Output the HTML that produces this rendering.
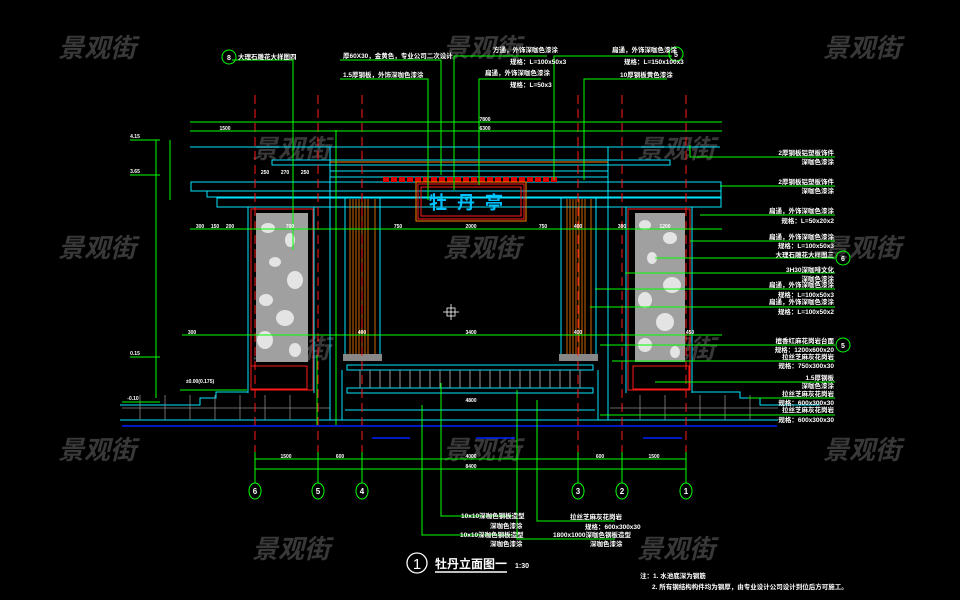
<!DOCTYPE html>
<html><head><meta charset="utf-8"><style>
html,body{margin:0;padding:0;background:#000;width:960px;height:600px;overflow:hidden}
svg{display:block}
text{font-family:"Liberation Sans","Noto Sans CJK SC",sans-serif}
.wm{fill:#383838;font-size:26px;font-weight:bold;font-style:italic;font-family:"Liberation Sans","Noto Sans CJK SC",sans-serif}
.lb{fill:#fff;font-size:6.5px;font-weight:bold}
.dm{fill:#fff;font-size:5px;font-weight:bold}
</style></head><body>
<svg width="960" height="600" viewBox="0 0 960 600" xmlns="http://www.w3.org/2000/svg">
<rect width="960" height="600" fill="#000"/>
<g class="wm">
<text x="58" y="57">景观街</text><text x="443" y="57">景观街</text><text x="823" y="57">景观街</text>
<text x="252" y="158">景观街</text><text x="637" y="158">景观街</text>
<text x="58" y="257">景观街</text><text x="443" y="257">景观街</text><text x="823" y="257">景观街</text>
<text x="252" y="358">景观街</text><text x="637" y="358">景观街</text>
<text x="58" y="459">景观街</text><text x="443" y="459">景观街</text><text x="823" y="459">景观街</text>
<text x="252" y="558">景观街</text><text x="637" y="558">景观街</text>
</g>

<g>
<rect x="256" y="213" width="52" height="149" fill="#a0a0a0"/>
<rect x="635" y="213" width="50" height="149" fill="#a0a0a0"/>
<g fill="#e4e4e4">
<ellipse cx="268" cy="228" rx="7" ry="5"/><ellipse cx="290" cy="240" rx="5" ry="7"/><ellipse cx="275" cy="262" rx="6" ry="5"/><ellipse cx="295" cy="280" rx="8" ry="9"/><ellipse cx="266" cy="300" rx="7" ry="6"/><ellipse cx="285" cy="318" rx="9" ry="8"/><ellipse cx="265" cy="340" rx="8" ry="9"/><ellipse cx="295" cy="350" rx="6" ry="7"/>
<ellipse cx="645" cy="225" rx="6" ry="5"/><ellipse cx="670" cy="238" rx="7" ry="6"/><ellipse cx="652" cy="258" rx="5" ry="6"/><ellipse cx="672" cy="285" rx="9" ry="8"/><ellipse cx="645" cy="300" rx="7" ry="8"/><ellipse cx="665" cy="322" rx="9" ry="9"/><ellipse cx="645" cy="345" rx="7" ry="7"/><ellipse cx="675" cy="352" rx="5" ry="6"/>
</g>
</g>

<g fill="none" stroke="#00e5ff" stroke-width="1">
<line x1="190" y1="147" x2="720" y2="147"/>
<rect x="272" y="160" width="398" height="5"/>
<rect x="330" y="171" width="278" height="6"/>
<rect x="191" y="182" width="530" height="9"/>
<rect x="207" y="191" width="514" height="6"/>
<rect x="217" y="198" width="504" height="9"/>
<line x1="248" y1="207" x2="248" y2="393"/><line x1="314" y1="207" x2="314" y2="393"/>
<line x1="626" y1="207" x2="626" y2="393"/><line x1="692" y1="207" x2="692" y2="393"/>
<line x1="345" y1="197" x2="345" y2="355"/><line x1="380" y1="197" x2="380" y2="355"/>
<line x1="561" y1="197" x2="561" y2="355"/><line x1="596" y1="197" x2="596" y2="355"/>
<line x1="330" y1="147" x2="330" y2="420"/><line x1="608" y1="147" x2="608" y2="420"/>
<rect x="347" y="365" width="246" height="5"/>
<rect x="347" y="388" width="246" height="5"/>
<line x1="342" y1="370" x2="342" y2="420"/><line x1="598" y1="370" x2="598" y2="420"/>
<polyline points="120,405 200,405 200,398 216,398 216,392 248,392"/>
<polyline points="820,405 760,405 760,398 740,398 740,392 692,392"/>
<line x1="120" y1="420" x2="778" y2="420"/>
<line x1="345" y1="410" x2="595" y2="410"/>
</g>
<g stroke="#888" stroke-width="0.8">
<line x1="122" y1="408" x2="330" y2="408"/><line x1="610" y1="408" x2="778" y2="408"/>
<line x1="140" y1="395" x2="140" y2="420"/><line x1="165" y1="395" x2="165" y2="420"/><line x1="190" y1="395" x2="190" y2="420"/><line x1="215" y1="395" x2="215" y2="420"/><line x1="240" y1="395" x2="240" y2="420"/><line x1="265" y1="395" x2="265" y2="420"/><line x1="290" y1="395" x2="290" y2="420"/>
<line x1="640" y1="395" x2="640" y2="420"/><line x1="665" y1="395" x2="665" y2="420"/><line x1="700" y1="395" x2="700" y2="420"/><line x1="725" y1="395" x2="725" y2="420"/><line x1="750" y1="395" x2="750" y2="420"/>
</g>
<g stroke="#999" stroke-width="1">
<line x1="360" y1="370" x2="360" y2="388"/><line x1="370" y1="370" x2="370" y2="388"/><line x1="380" y1="370" x2="380" y2="388"/><line x1="390" y1="370" x2="390" y2="388"/><line x1="400" y1="370" x2="400" y2="388"/><line x1="410" y1="370" x2="410" y2="388"/><line x1="420" y1="370" x2="420" y2="388"/><line x1="430" y1="370" x2="430" y2="388"/><line x1="440" y1="370" x2="440" y2="388"/><line x1="450" y1="370" x2="450" y2="388"/><line x1="460" y1="370" x2="460" y2="388"/><line x1="470" y1="370" x2="470" y2="388"/><line x1="480" y1="370" x2="480" y2="388"/><line x1="490" y1="370" x2="490" y2="388"/><line x1="500" y1="370" x2="500" y2="388"/><line x1="510" y1="370" x2="510" y2="388"/><line x1="520" y1="370" x2="520" y2="388"/><line x1="530" y1="370" x2="530" y2="388"/><line x1="540" y1="370" x2="540" y2="388"/><line x1="550" y1="370" x2="550" y2="388"/><line x1="560" y1="370" x2="560" y2="388"/><line x1="570" y1="370" x2="570" y2="388"/><line x1="580" y1="370" x2="580" y2="388"/>
</g>
<g stroke="#ff8000" stroke-width="0.8">
<line x1="350" y1="199" x2="350" y2="354"/><line x1="353" y1="199" x2="353" y2="354"/><line x1="356" y1="199" x2="356" y2="354"/><line x1="359" y1="199" x2="359" y2="354"/><line x1="362" y1="199" x2="362" y2="354"/><line x1="365" y1="199" x2="365" y2="354"/><line x1="368" y1="199" x2="368" y2="354"/><line x1="375" y1="199" x2="375" y2="354"/>
<line x1="567" y1="199" x2="567" y2="354"/><line x1="570" y1="199" x2="570" y2="354"/><line x1="573" y1="199" x2="573" y2="354"/><line x1="576" y1="199" x2="576" y2="354"/><line x1="579" y1="199" x2="579" y2="354"/><line x1="582" y1="199" x2="582" y2="354"/><line x1="585" y1="199" x2="585" y2="354"/><line x1="591" y1="199" x2="591" y2="354"/>
</g>
<rect x="343" y="354" width="39" height="7" fill="#888"/>
<rect x="559" y="354" width="39" height="7" fill="#888"/>
<g fill="#e00000">
<rect x="383" y="177" width="6" height="5"/><rect x="391" y="177" width="6" height="5"/><rect x="399" y="177" width="6" height="5"/><rect x="407" y="177" width="6" height="5"/><rect x="415" y="177" width="6" height="5"/><rect x="423" y="177" width="6" height="5"/><rect x="431" y="177" width="6" height="5"/><rect x="439" y="177" width="6" height="5"/><rect x="447" y="177" width="6" height="5"/><rect x="455" y="177" width="6" height="5"/><rect x="463" y="177" width="6" height="5"/><rect x="471" y="177" width="6" height="5"/><rect x="479" y="177" width="6" height="5"/><rect x="487" y="177" width="6" height="5"/><rect x="495" y="177" width="6" height="5"/><rect x="503" y="177" width="6" height="5"/><rect x="511" y="177" width="6" height="5"/><rect x="519" y="177" width="6" height="5"/><rect x="527" y="177" width="6" height="5"/><rect x="535" y="177" width="6" height="5"/><rect x="543" y="177" width="6" height="5"/><rect x="551" y="177" width="6" height="5"/>
</g>
<line x1="330" y1="162" x2="608" y2="162" stroke="#ff8000"/>
<g fill="none" stroke="#ff1a1a" stroke-width="1">
<rect x="251" y="209" width="62" height="181"/><rect x="251" y="366" width="56" height="23"/>
<rect x="628" y="209" width="62" height="181"/><rect x="633" y="366" width="56" height="23"/>
<rect x="418" y="184" width="106" height="35"/><rect x="421" y="187" width="100" height="29"/>
</g>
<rect x="416" y="182" width="110" height="39" fill="none" stroke="#ff8000"/>
<text x="471" y="209" text-anchor="middle" fill="#00bfff" font-size="18" font-weight="bold" font-family="Liberation Serif,Noto Serif CJK SC,serif" letter-spacing="10">牡丹亭</text>
<g stroke="#ff1a1a" stroke-width="1" stroke-dasharray="9,5">
<line x1="255" y1="95" x2="255" y2="485"/><line x1="318" y1="95" x2="318" y2="485"/><line x1="362" y1="95" x2="362" y2="485"/>
<line x1="578" y1="95" x2="578" y2="485"/><line x1="622" y1="95" x2="622" y2="485"/><line x1="686" y1="95" x2="686" y2="485"/>
</g>
<line x1="122" y1="426" x2="777" y2="426" stroke="#0020ff" stroke-width="1.5"/>
<g stroke="#0020ff" stroke-width="1.5"><line x1="372" y1="438" x2="410" y2="438"/><line x1="476" y1="438" x2="515" y2="438"/><line x1="643" y1="438" x2="682" y2="438"/></g>
<g stroke="#00ff00" stroke-width="1" fill="none">
<line x1="190" y1="122" x2="722" y2="122"/><line x1="190" y1="131" x2="722" y2="131"/>
<line x1="190" y1="229" x2="722" y2="229"/><line x1="182" y1="335" x2="722" y2="335"/>
<line x1="156" y1="140" x2="156" y2="398"/><line x1="170" y1="140" x2="170" y2="200"/>
<line x1="130" y1="140" x2="160" y2="140"/><line x1="130" y1="175" x2="160" y2="175"/><line x1="130" y1="357" x2="160" y2="357"/><line x1="122" y1="402" x2="160" y2="402"/>
<line x1="255" y1="459" x2="686" y2="459"/><line x1="255" y1="469" x2="686" y2="469"/>
<line x1="255" y1="452" x2="255" y2="483"/><line x1="318" y1="452" x2="318" y2="483"/><line x1="362" y1="452" x2="362" y2="483"/><line x1="578" y1="452" x2="578" y2="483"/><line x1="622" y1="452" x2="622" y2="483"/><line x1="686" y1="452" x2="686" y2="483"/>
<line x1="336" y1="130" x2="336" y2="425"/><line x1="317" y1="355" x2="317" y2="425"/>
<polyline points="232,60 293,60 293,250"/>
<polyline points="340,60 441,60 441,175"/>
<polyline points="340,79 428,79 428,200"/>
<polyline points="454,56 547,56 454,56 454,190"/>
<polyline points="479,79 541,79 479,79 479,185"/>
<polyline points="554,56 672,56 554,56 554,180"/>
<polyline points="584,79 667,79 584,79 584,180"/>
<polyline points="835,157 690,157 690,145"/>
<line x1="720" y1="186" x2="835" y2="186"/>
<line x1="700" y1="215" x2="835" y2="215"/>
<line x1="690" y1="241" x2="835" y2="241"/>
<line x1="655" y1="258" x2="835" y2="258"/>
<line x1="625" y1="273" x2="835" y2="273"/>
<line x1="595" y1="289" x2="835" y2="289"/>
<line x1="590" y1="307" x2="835" y2="307"/>
<line x1="600" y1="345" x2="835" y2="345"/>
<line x1="612" y1="361" x2="835" y2="361"/>
<line x1="655" y1="382" x2="835" y2="382"/>
<line x1="748" y1="398" x2="835" y2="398"/>
<line x1="600" y1="415" x2="835" y2="415"/>
<polyline points="422,405 422,535 512,535"/>
<polyline points="441,383 441,516 512,516"/>
<polyline points="517,390 517,539 615,539"/>
<polyline points="537,400 537,521 615,521"/>
<ellipse cx="255" cy="491" rx="6" ry="8"/><ellipse cx="318" cy="491" rx="6" ry="8"/><ellipse cx="362" cy="491" rx="6" ry="8"/>
<ellipse cx="578" cy="491" rx="6" ry="8"/><ellipse cx="622" cy="491" rx="6" ry="8"/><ellipse cx="686" cy="491" rx="6" ry="8"/>
<circle cx="229" cy="57" r="7"/><circle cx="676" cy="54" r="7"/><circle cx="843" cy="258" r="7"/><circle cx="843" cy="345" r="7"/>
<polyline points="180,390 247,390"/>
</g>
<g fill="#fff" font-size="8" font-weight="bold" text-anchor="middle">
<text x="255" y="494">6</text><text x="318" y="494">5</text><text x="362" y="494">4</text><text x="578" y="494">3</text><text x="622" y="494">2</text><text x="686" y="494">1</text>
<text x="229" y="60" font-size="7">8</text><text x="676" y="57" font-size="7">5</text><text x="843" y="261" font-size="7">6</text><text x="843" y="348" font-size="7">5</text>
</g>
<g class="dm" text-anchor="middle">
<text x="485" y="121">7800</text><text x="485" y="130">6300</text>
<text x="225" y="130">1500</text><text x="265" y="174">250</text><text x="285" y="174">270</text><text x="305" y="174">250</text>
<text x="200" y="228">300</text><text x="215" y="228">150</text><text x="230" y="228">200</text><text x="290" y="228">700</text>
<text x="398" y="228">750</text><text x="471" y="228">2000</text><text x="543" y="228">750</text><text x="578" y="228">400</text><text x="622" y="228">300</text><text x="665" y="228">1200</text>
<text x="471" y="334">3400</text><text x="362" y="334">400</text><text x="578" y="334">400</text><text x="690" y="334">450</text><text x="192" y="334">300</text>
<text x="471" y="402">4800</text>
<text x="286" y="458">1500</text><text x="340" y="458">600</text><text x="471" y="458">4000</text><text x="600" y="458">600</text><text x="654" y="458">1500</text>
<text x="471" y="468">8400</text>
<text x="135" y="138">4.15</text><text x="135" y="173">3.65</text><text x="135" y="355">0.15</text><text x="133" y="400">-0.10</text>
<text x="200" y="383">±0.00(0.175)</text>
</g>
<g class="lb">
<text x="238" y="59">大理石雕花大样图四</text>
<text x="343" y="58">厚60X30，金黄色，专业公司二次设计</text>
<text x="343" y="77">1.5厚钢板，外饰深咖色漆涂</text>
<text x="493" y="52">方通，外饰深咖色漆涂</text><text x="510" y="64">规格：L=100x50x3</text>
<text x="485" y="75">扁通，外饰深咖色漆涂</text><text x="510" y="87">规格：L=50x3</text>
<text x="612" y="52">扁通，外饰深咖色漆涂</text><text x="624" y="64">规格：L=150x100x3</text>
<text x="620" y="77">10厚钢板黄色漆涂</text>
</g>
<g class="lb" text-anchor="end">
<text x="834" y="155">2厚钢板铝塑板饰件</text><text x="834" y="164">深咖色漆涂</text>
<text x="834" y="184">2厚钢板铝塑板饰件</text><text x="834" y="193">深咖色漆涂</text>
<text x="834" y="213">扁通，外饰深咖色漆涂</text><text x="834" y="223">规格：L=50x20x2</text>
<text x="834" y="239">扁通，外饰深咖色漆涂</text><text x="834" y="248">规格：L=100x50x3</text><text x="834" y="257">大理石雕花大样图三</text>
<text x="834" y="272">3H30深咖啡文化</text><text x="834" y="281">深咖色漆涂</text><text x="834" y="287">扁通，外饰深咖色漆涂</text><text x="834" y="297">规格：L=100x50x3</text>
<text x="834" y="304">扁通，外饰深咖色漆涂</text><text x="834" y="314">规格：L=100x50x2</text>
<text x="834" y="343">檀香红麻花岗岩台面</text><text x="834" y="352">规格：1200x600x20</text><text x="834" y="359">拉丝芝麻灰花岗岩</text><text x="834" y="368">规格：750x300x30</text>
<text x="834" y="380">1.5厚钢板</text><text x="834" y="388">深咖色漆涂</text><text x="834" y="396">拉丝芝麻灰花岗岩</text><text x="834" y="405">规格：600x300x30</text><text x="834" y="412">拉丝芝麻灰花岗岩</text><text x="834" y="422">规格：600x300x30</text>
</g>
<g class="lb">
<text x="461" y="518">10x10深咖色钢板造型</text><text x="490" y="528">深咖色漆涂</text>
<text x="460" y="537">10x10深咖色钢板造型</text><text x="490" y="546">深咖色漆涂</text>
<text x="570" y="519">拉丝芝麻灰花岗岩</text><text x="585" y="529">规格：600x300x30</text>
<text x="553" y="537">1800x1000深咖色钢板造型</text><text x="590" y="546">深咖色漆涂</text>
<text x="640" y="578">注：1. 水池底深为钢筋</text>
<text x="652" y="589">2. 所有钢结构构件均为钢厚，由专业设计公司设计到位后方可施工。</text>
</g>
<circle cx="417" cy="563" r="10" fill="none" stroke="#fff" stroke-width="1.3"/>
<text x="417" y="569" fill="#fff" font-size="15" text-anchor="middle">1</text>
<text x="435" y="568" fill="#fff" font-size="12" font-weight="bold">牡丹立面图一</text>
<line x1="435" y1="572" x2="507" y2="572" stroke="#fff" stroke-width="1.5"/>
<text x="515" y="568" fill="#fff" font-size="7" font-weight="bold">1:30</text>
<g stroke="#fff" fill="none" stroke-width="0.8"><rect x="447" y="308" width="8" height="8"/><line x1="451" y1="304" x2="451" y2="320"/><line x1="443" y1="312" x2="459" y2="312"/></g>
</svg>
</body></html>
